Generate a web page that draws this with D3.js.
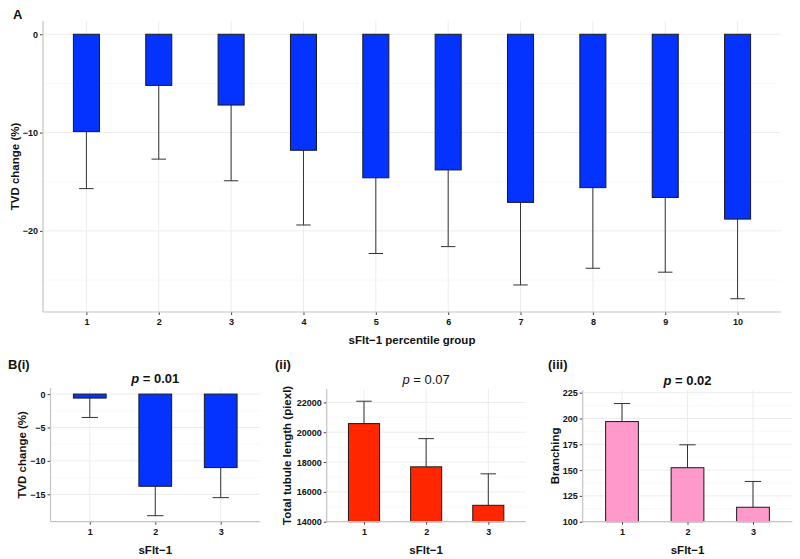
<!DOCTYPE html>
<html>
<head>
<meta charset="utf-8">
<script src="https://cdn.jsdelivr.net/npm/d3@7"></script>
<style>
body{margin:0;background:#fff;}
text{font-family:"Liberation Sans",Arial,Helvetica,sans-serif;}
</style>
</head>
<body>
<svg id="chart" width="800" height="559"></svg>
<script>
// ---- Data ----
const groupsA = ["1","2","3","4","5","6","7","8","9","10"];
const meanA = [-9.9,-5.2,-7.2,-11.8,-14.6,-13.8,-17.1,-15.6,-16.6,-18.8];
const lowerA = [-15.7,-12.7,-14.9,-19.4,-22.3,-21.6,-25.5,-23.8,-24.2,-26.9];
const ticksA = [0,-10,-20];

const groupsB = ["1","2","3"];
const meanBi = [-0.6,-13.8,-11.0];
const lowerBi = [-3.5,-18.2,-15.5];
const ticksBi = [0,-5,-10,-15];

const meanBii = [20580,17680,15100];
const upperBii = [22080,19570,17210];
const ticksBii = [14000,16000,18000,20000,22000];

const meanBiii = [197,152.3,114];
const upperBiii = [214.5,174.5,139];
const ticksBiii = [100,125,150,175,200,225];

const svg = d3.select("#chart");
const fmt = v => String(v).replace("-", "\u2212");

function panel(o){
  const g = svg.append("g");
  const x = d3.scalePoint().domain(o.cats).range([o.left,o.right]).padding(0.6);
  const y = d3.scaleLinear().domain(o.ydom).range([o.bottom,o.top]);
  const step = x.step();
  // minor grid
  const minors = [];
  for(let i=0;i<o.ticks.length;i++){
    const a=o.ticks[i], b=o.ticks[i+1];
    if(b!==undefined) minors.push((a+b)/2);
  }
  if(o.extraMinor) o.extraMinor.forEach(v=>minors.push(v));
  g.selectAll(".mn").data(minors.filter(v=>v>=o.ydom[0]&&v<=o.ydom[1])).enter().append("line")
    .attr("x1",o.left).attr("x2",o.right).attr("y1",d=>y(d)).attr("y2",d=>y(d))
    .attr("stroke","#f6f6f6").attr("stroke-width",0.8);
  g.selectAll(".mj").data(o.ticks).enter().append("line")
    .attr("x1",o.left).attr("x2",o.right).attr("y1",d=>y(d)).attr("y2",d=>y(d))
    .attr("stroke","#ececec").attr("stroke-width",1);
  g.selectAll(".vg").data(o.cats).enter().append("line")
    .attr("x1",d=>x(d)).attr("x2",d=>x(d)).attr("y1",o.top).attr("y2",o.bottom)
    .attr("stroke","#ececec").attr("stroke-width",1);
  // error bars
  const bw = step*o.barW, ww = step*o.whW;
  g.selectAll(".eb").data(o.cats).enter().append("line")
    .attr("x1",d=>x(d)).attr("x2",d=>x(d))
    .attr("y1",(d,i)=>y(o.mean[i])).attr("y2",(d,i)=>y(o.err[i]))
    .attr("stroke","#333").attr("stroke-width",1);
  g.selectAll(".ew").data(o.cats).enter().append("line")
    .attr("x1",d=>x(d)-ww/2).attr("x2",d=>x(d)+ww/2)
    .attr("y1",(d,i)=>y(o.err[i])).attr("y2",(d,i)=>y(o.err[i]))
    .attr("stroke","#333").attr("stroke-width",1);
  // bars
  g.selectAll(".bar").data(o.cats).enter().append("rect")
    .attr("x",d=>x(d)-bw/2).attr("width",bw)
    .attr("y",(d,i)=>Math.min(y(o.mean[i]),y(o.base)))
    .attr("height",(d,i)=>Math.abs(y(o.mean[i])-y(o.base)))
    .attr("fill",o.fill).attr("stroke","#1a1a1a").attr("stroke-width",1);
  // axes
  const ya = d3.axisLeft(y).tickValues(o.ticks).tickSize(3).tickFormat(fmt);
  const yg = g.append("g").attr("transform",`translate(${o.left},0)`).call(ya);
  const xa = d3.axisBottom(x).tickSize(3);
  const xg = g.append("g").attr("transform",`translate(0,${o.bottom})`).call(xa);
  [yg,xg].forEach(a=>{
    a.select(".domain").remove();
    a.selectAll(".tick line").attr("stroke","#444");
    a.selectAll(".tick text").attr("fill","#111").attr("font-size",o.tickFs||9).attr("font-weight","bold");
  });
  yg.selectAll(".tick text").attr("x",-5).attr("dy","0.34em");
  xg.selectAll(".tick text").attr("y",7);
  g.append("line").attr("x1",o.left).attr("x2",o.left).attr("y1",o.top).attr("y2",o.bottom)
    .attr("stroke","#c4c4c4").attr("stroke-width",1.2);
  g.append("line").attr("x1",o.left).attr("x2",o.right).attr("y1",o.bottom).attr("y2",o.bottom)
    .attr("stroke","#c4c4c4").attr("stroke-width",1.2);
  // titles
  g.append("text").attr("x",(o.left+o.right)/2).attr("y",o.xTitleY).attr("text-anchor","middle")
    .attr("font-size",o.titleFs||11.5).attr("font-weight","bold").attr("fill","#111").text(o.xTitle);
  g.append("text").attr("transform",`translate(${o.yTitleX},${(o.top+o.bottom)/2}) rotate(-90)`)
    .attr("text-anchor","middle").attr("font-size",o.titleFs||11.5).attr("font-weight","bold")
    .attr("fill","#111").text(o.yTitle);
  if(o.pval){
    const t = g.append("text").attr("x",(o.left+o.right)/2).attr("y",o.top-5).attr("text-anchor","middle")
      .attr("font-size",13).attr("fill","#111").attr("font-weight",o.pBold?"bold":"normal");
    t.append("tspan").attr("font-style","italic").text("p");
    t.append("tspan").text(" = "+o.pval);
  }
  svg.append("text").attr("x",o.labelX).attr("y",o.labelY).attr("font-size",13)
    .attr("font-weight","bold").attr("fill","#111").text(o.label);
}

panel({cats:groupsA, mean:meanA, err:lowerA, base:0, ticks:ticksA, extraMinor:[-25],
  ydom:[-28.25,1.35], left:43, right:781, top:21, bottom:312, barW:0.36, whW:0.2,
  fill:"#0433FF", xTitle:"sFlt\u22121 percentile group", xTitleY:344, yTitle:"TVD change (%)", yTitleX:19,
  label:"A", labelX:13, labelY:19});

panel({cats:groupsB, mean:meanBi, err:lowerBi, base:0, ticks:ticksBi,
  ydom:[-19.1,0.91], left:50.5, right:260, top:388, bottom:521.7, barW:0.5, whW:0.25,
  fill:"#0433FF", xTitle:"sFlt\u22121", xTitleY:554, yTitle:"TVD change (%)", yTitleX:26,
  pval:"0.01", pBold:true, label:"B(i)", labelX:8, labelY:369});

panel({cats:groupsB, mean:meanBii, err:upperBii, base:14000, ticks:ticksBii,
  ydom:[14000,22900], left:326.7, right:525.6, top:389, bottom:521.7, barW:0.5, whW:0.25,
  fill:"#FF2600", xTitle:"sFlt\u22121", xTitleY:554, yTitle:"Total tubule length (piexl)", yTitleX:291,
  pval:"0.07", pBold:false, label:"(ii)", labelX:275, labelY:369});

panel({cats:groupsB, mean:meanBiii, err:upperBiii, base:100, ticks:ticksBiii,
  ydom:[100,227.6], left:582.7, right:792.3, top:390, bottom:521.7, barW:0.5, whW:0.25,
  fill:"#FF99CC", xTitle:"sFlt\u22121", xTitleY:554, yTitle:"Branching", yTitleX:559,
  pval:"0.02", pBold:true, label:"(iii)", labelX:548, labelY:369});
</script>
</body>
</html>
